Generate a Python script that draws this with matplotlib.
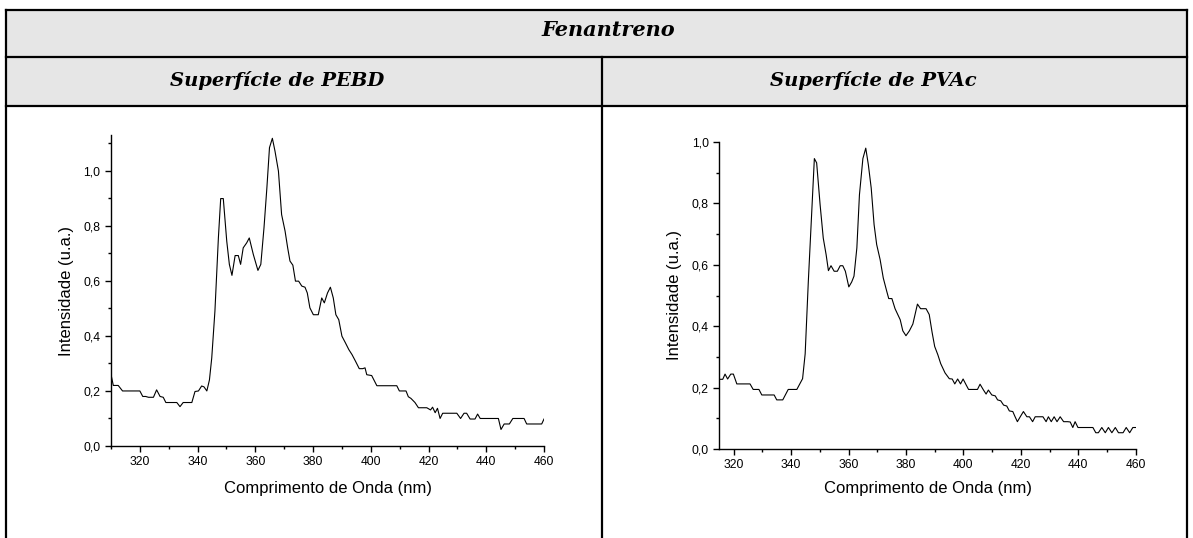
import matplotlib.pyplot as plt
from matplotlib.lines import Line2D
from matplotlib.patches import Rectangle
from matplotlib.ticker import MultipleLocator, FuncFormatter

# Fluorescence spectra of phenanthrene on two surfaces
pebd_nm = [310, 310.8, 312.5, 314, 320, 321, 322, 323, 324.7, 325.8, 327, 328.1, 329,
           332.8, 333.9, 335, 338, 339.1, 340.3, 341.4, 342.2, 343.2, 344.1, 344.9, 346,
           347.2, 348, 348.9, 350.1, 351, 351.9, 353, 354.1, 354.9, 355.8, 357, 357.9,
           359.3, 360.9, 361.9, 363, 364, 364.9, 365.9, 366.8, 368, 369.1, 370.3, 371.2,
           372, 373, 373.9, 375, 376.1, 377.2, 378, 378.9, 380.1, 381.8, 383, 383.9, 385,
           386, 387, 387.9, 388.9, 390, 391.2, 392.4, 393.5, 394.7, 396, 397.2, 398, 398.6,
           400.3, 402.1, 409, 409.9, 412.2, 413, 413.9, 415.3, 416.5, 419.4, 420.7, 421.4,
           422.3, 423.1, 424, 424.9, 429.8, 431.1, 432.3, 433.2, 434.4, 436.1, 437, 437.9,
           444.2, 445.1, 446.2, 448, 449.2, 453.1, 454, 459.2, 460]
pebd_int = [0.26, 0.22, 0.22, 0.20, 0.20, 0.18, 0.18, 0.177, 0.177, 0.204, 0.18, 0.177, 0.158,
            0.158, 0.143, 0.158, 0.158, 0.198, 0.20, 0.218, 0.215, 0.20, 0.24, 0.32, 0.49,
            0.756, 0.899, 0.899, 0.744, 0.66, 0.62, 0.692, 0.692, 0.66, 0.72, 0.738, 0.756,
            0.696, 0.638, 0.66, 0.793, 0.938, 1.084, 1.118, 1.072, 0.999, 0.841, 0.781, 0.72,
            0.672, 0.657, 0.599, 0.599, 0.581, 0.577, 0.556, 0.502, 0.477, 0.477, 0.538, 0.52,
            0.556, 0.577, 0.538, 0.477, 0.459, 0.399, 0.375, 0.350, 0.332, 0.308, 0.281, 0.281,
            0.284, 0.259, 0.256, 0.219, 0.219, 0.20, 0.20, 0.179, 0.173, 0.158, 0.139, 0.139,
            0.131, 0.141, 0.121, 0.137, 0.10, 0.119, 0.119, 0.10, 0.119, 0.119, 0.098, 0.098,
            0.116, 0.10, 0.10, 0.06, 0.08, 0.08, 0.10, 0.10, 0.08, 0.08, 0.098]

pvac_nm = [315.2, 316.2, 317, 317.9, 319, 319.9, 321.1, 325.7, 326.8, 328.8, 329.8, 334.1,
           335, 337.1, 339, 342, 344, 344.9, 346, 347.2, 348.1, 348.9, 350.1, 351.2, 352.2,
           353, 353.9, 355, 356.1, 357.1, 358, 358.9, 360.1, 361.1, 361.9, 362.9, 363.8, 365,
           366, 366.9, 367.9, 368.9, 369.8, 371, 372.1, 373.3, 374, 375.1, 376.2, 378, 378.9,
           380, 381.2, 382.4, 384, 385.1, 387, 388.1, 389.1, 390, 391.1, 392.1, 393.6, 395.1,
           396.1, 397, 398, 399, 399.9, 401, 401.8, 404.9, 405.8, 407, 407.9, 408.7, 409.9,
           411.1, 411.9, 413, 414, 415.1, 416, 417.2, 418, 418.8, 419.8, 420.9, 422.1, 423,
           424.1, 425, 427.7, 428.8, 429.6, 430.6, 431.6, 432.6, 433.7, 434.9, 436.3, 437.2,
           438.1, 438.9, 439.9, 445.1, 446.1, 447, 448.2, 449.4, 450.5, 451.7, 452.9, 454,
           455.6, 456.7, 457.9, 459, 460]
pvac_int = [0.227, 0.227, 0.244, 0.228, 0.244, 0.244, 0.212, 0.212, 0.194, 0.194, 0.176, 0.176,
            0.16, 0.16, 0.194, 0.194, 0.229, 0.31, 0.546, 0.774, 0.946, 0.932, 0.796, 0.687,
            0.633, 0.581, 0.597, 0.579, 0.579, 0.597, 0.597, 0.579, 0.528, 0.544, 0.563, 0.655,
            0.828, 0.946, 0.980, 0.926, 0.85, 0.731, 0.666, 0.617, 0.557, 0.514, 0.49, 0.49,
            0.457, 0.421, 0.385, 0.369, 0.385, 0.407, 0.472, 0.457, 0.457, 0.438, 0.38, 0.334,
            0.307, 0.278, 0.248, 0.229, 0.228, 0.212, 0.228, 0.212, 0.228, 0.208, 0.194, 0.194,
            0.211, 0.192, 0.179, 0.192, 0.176, 0.173, 0.16, 0.157, 0.143, 0.14, 0.124, 0.122,
            0.105, 0.089, 0.105, 0.122, 0.105, 0.105, 0.089, 0.105, 0.105, 0.089, 0.105, 0.089,
            0.105, 0.089, 0.105, 0.089, 0.089, 0.088, 0.07, 0.089, 0.07, 0.07, 0.053, 0.053,
            0.07, 0.053, 0.07, 0.053, 0.07, 0.053, 0.053, 0.07, 0.053, 0.07, 0.07]

title = "Fenantreno"
headers = ["Superfície de PEBD", "Superfície de PVAc"]

W, H = 1193, 538
fig = plt.figure(figsize=(W / 100, H / 100), dpi=100)
plt.rcParams["font.family"] = ["Liberation Sans", "DejaVu Sans"]


def fx(px):
    return px / W


def fy(py):
    return 1 - py / H


# table frame behind the charts
fig.patches.append(Rectangle((fx(6), fy(106)), fx(1181), 96 / H, transform=fig.transFigure,
                             facecolor="#e6e6e6", edgecolor="none", zorder=0))
lw = 1.6
for xs, ys in [((6, 1187), (10, 10)), ((6, 1187), (57, 57)), ((6, 1187), (106, 106)),
               ((6, 6), (10, 538)), ((1187, 1187), (10, 538)), ((602, 602), (57, 538))]:
    fig.add_artist(Line2D([fx(xs[0]), fx(xs[1])], [fy(ys[0]), fy(ys[1])],
                          transform=fig.transFigure, color="black", lw=lw))

hfont = dict(family="DejaVu Serif", weight="bold", style="italic",
             ha="center", va="baseline")
fig.text(fx(608), fy(36), title, size=15, **hfont)
fig.text(fx(277), fy(86), headers[0], size=14, **hfont)
fig.text(fx(873), fy(86), headers[1], size=14, **hfont)

comma = FuncFormatter(lambda v, pos: f"{v:.1f}".replace(".", ","))


def style_axes(ax, x0, top):
    ax.set_xlim(x0, 460)
    ax.set_ylim(0, top)
    for s in ["top", "right"]:
        ax.spines[s].set_visible(False)
    for s in ["left", "bottom"]:
        ax.spines[s].set_linewidth(1.0)
    ax.xaxis.set_major_locator(MultipleLocator(20))
    ax.xaxis.set_minor_locator(MultipleLocator(10))
    ax.yaxis.set_major_locator(MultipleLocator(0.2))
    ax.yaxis.set_minor_locator(MultipleLocator(0.1))
    ax.yaxis.set_major_formatter(comma)
    ax.tick_params(which="major", length=4, width=1.0, labelsize=8.7, direction="out")
    ax.tick_params(which="minor", length=2.5, width=1.0, direction="out")
    ax.set_ylabel("Intensidade (u.a.)", fontsize=12, labelpad=7)


ax1 = fig.add_axes([fx(111), fy(446), 433 / W, 311 / H])
ax1.plot(pebd_nm, pebd_int, color="black", lw=0.8)
style_axes(ax1, 310, 1.13)
ax1.set_xlabel("Comprimento de Onda (nm)", fontsize=12, labelpad=9)

ax2 = fig.add_axes([fx(719.3), fy(449), 416.4 / W, 307 / H])
ax2.plot(pvac_nm, pvac_int, color="black", lw=0.8)
style_axes(ax2, 315, 1.0)
ax2.set_xlabel("Comprimento de Onda (nm)", fontsize=12, labelpad=7)

fig.savefig("out.png", dpi=100)
